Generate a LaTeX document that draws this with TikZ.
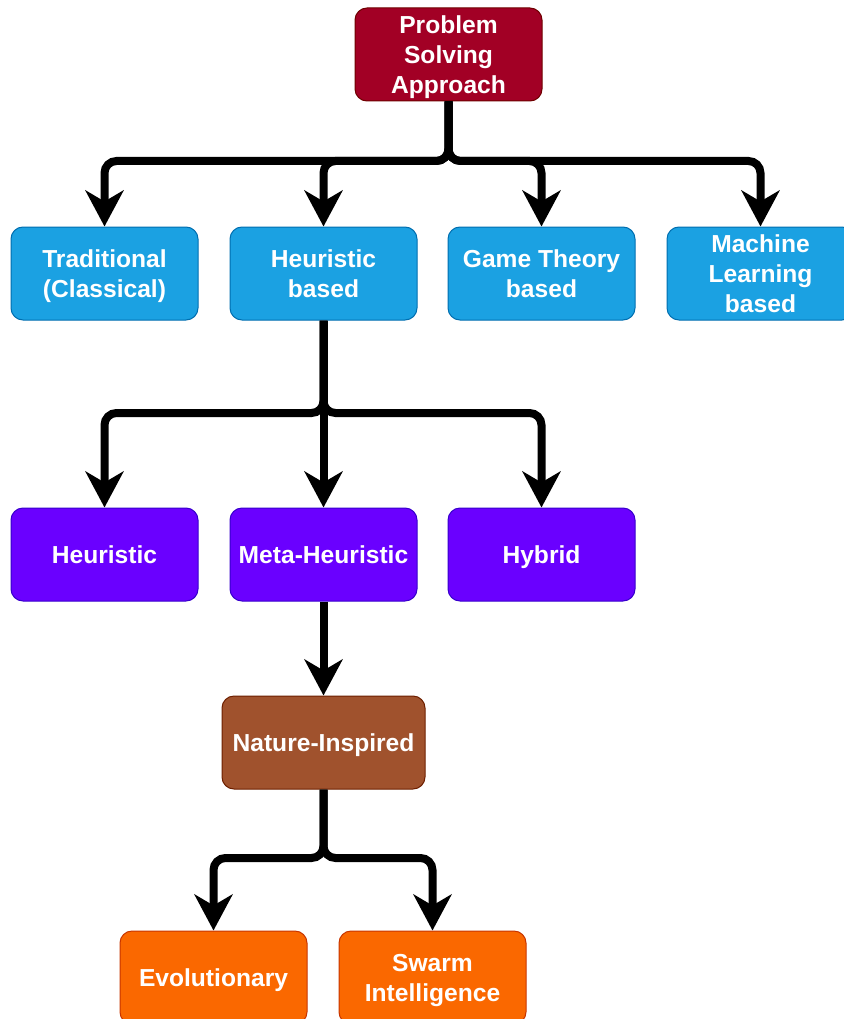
\documentclass[tikz,border=0pt]{standalone}
\usepackage{fontspec}
\setmainfont{Liberation Sans}
\usetikzlibrary{arrows.meta}

\definecolor{rootfill}{HTML}{A20025}\definecolor{rootline}{HTML}{6F0000}
\definecolor{bluefill}{HTML}{1BA1E2}\definecolor{blueline}{HTML}{006EAF}
\definecolor{violetfill}{HTML}{6A00FF}\definecolor{violetline}{HTML}{3700CC}
\definecolor{brownfill}{HTML}{A0522D}\definecolor{brownline}{HTML}{6D1F00}
\definecolor{orangefill}{HTML}{FA6800}\definecolor{orangeline}{HTML}{C73500}

% invisible rules giving the first line a fixed height and the last a fixed depth,
% so every label is centred on its capitals
\newcommand\linetop{\rule{0pt}{23.8pt}}
\newcommand\linebot{\rule[-6.2pt]{0pt}{6.2pt}}

\begin{document}
\begin{tikzpicture}[x=1pt,y=-1pt,
  box/.style={rectangle, rounded corners=12pt, minimum width=187pt, minimum height=93pt,
    line width=1pt, text=white, align=center, inner sep=0pt,
    font=\bfseries\fontsize{24.6}{30}\selectfont},
  rootbox/.style={box, fill=rootfill, draw=rootline},
  bluebox/.style={box, fill=bluefill, draw=blueline},
  violetbox/.style={box, fill=violetfill, draw=violetline},
  brownbox/.style={box, fill=brownfill, draw=brownline},
  orangebox/.style={box, fill=orangefill, draw=orangeline},
  conn/.style={line width=8pt, rounded corners=12pt,
    -{Stealth[length=36pt,width=38pt,inset=11pt]}}]

\useasboundingbox (0,0) rectangle (843,1019);

% boxes
\node[rootbox] (root) at (448.5,54.5) {\linetop Problem\\Solving\\Approach\linebot};

\node[bluebox] (trad) at (104.5,273.5) {\linetop Traditional\\(Classical)\linebot};
\node[bluebox] (hbased) at (323.5,273.5) {\linetop Heuristic\\based\linebot};
\node[bluebox] (game) at (541.5,273.5) {\linetop Game Theory\\based\linebot};
\node[bluebox] (ml) at (760.5,273.5) {\linetop Machine\\Learning\\based\linebot};

\node[violetbox] (heur) at (104.5,554.5) {\linetop Heuristic\linebot};
\node[violetbox] (meta) at (323.5,554.5) {\linetop Meta-Heuristic\linebot};
\node[violetbox] (hybrid) at (541.5,554.5) {\linetop Hybrid\linebot};

\node[brownbox, minimum width=203pt] (nature) at (323.5,742.5) {\linetop Nature-Inspired\linebot};

\node[orangebox] (evo) at (213.5,977.5) {\linetop Evolutionary\linebot};
\node[orangebox] (swarm) at (432.5,977.5) {\linetop Swarm\\Intelligence\linebot};

% branching points
\coordinate (b1) at (448.5,161);
\coordinate (b2) at (323.5,413);
\coordinate (b3) at (323.5,858);

% connectors
\draw[conn] (root.south) -- (b1) -| (trad.north);
\draw[conn] (root.south) -- (b1) -| (hbased.north);
\draw[conn] (root.south) -- (b1) -| (game.north);
\draw[conn] (root.south) -- (b1) -| (ml.north);

\draw[conn] (hbased.south) -- (b2) -| (heur.north);
\draw[conn] (hbased.south) -- (meta.north);
\draw[conn] (hbased.south) -- (b2) -| (hybrid.north);

\draw[conn] (meta.south) -- (nature.north);

\draw[conn] (nature.south) -- (b3) -| (evo.north);
\draw[conn] (nature.south) -- (b3) -| (swarm.north);
\end{tikzpicture}
\end{document}
